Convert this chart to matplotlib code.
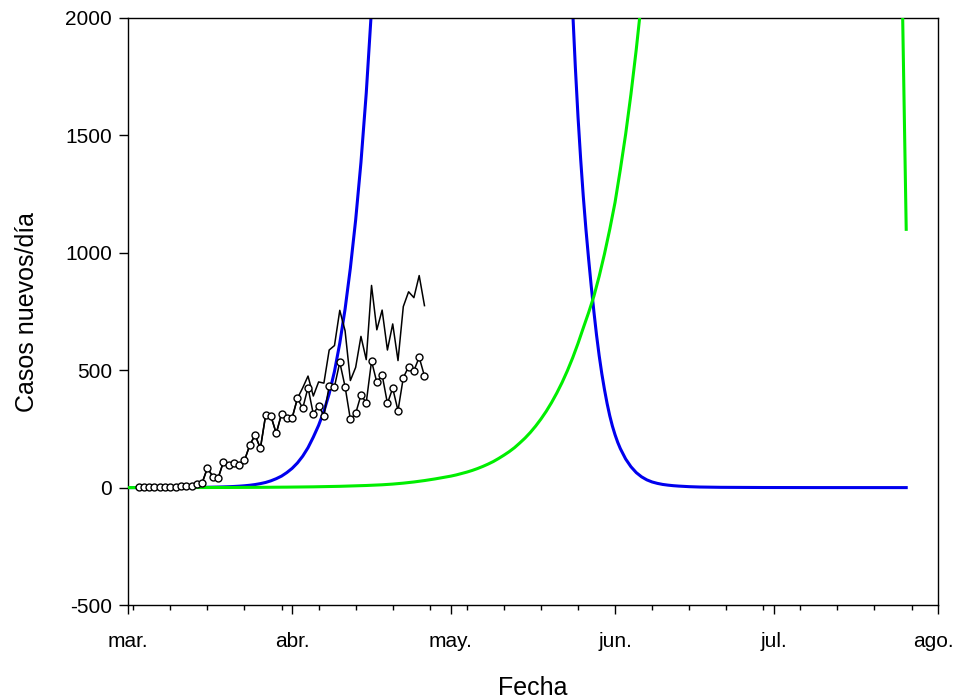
import numpy as np
import matplotlib
matplotlib.use('Agg')
import matplotlib.pyplot as plt
import matplotlib.dates as mdates
import matplotlib.transforms as mtransforms

plt.rcParams['font.family'] = ['Liberation Sans', 'DejaVu Sans']
plt.rcParams['axes.unicode_minus'] = False

# casos nuevos por día, del 3 de marzo al 26 de abril
inicio_datos = '2020-03-03'
fin_datos = '2020-04-27'
casos = [1, 1, 2, 1, 2, 3, 3, 4, 5, 5, 8, 15, 20, 84, 47, 39, 108, 98, 105, 98,
         116, 181, 224, 167, 309, 304, 231, 314, 295, 297, 380, 338, 426, 313, 349,
         306, 433, 430, 534, 430, 291, 316, 394, 362, 539, 448, 480, 359, 423, 328,
         468, 515, 498, 555, 475]
casos_b = [1, 1, 2, 1, 2, 3, 3, 4, 5, 5, 8, 15, 20, 84, 47, 39, 108, 98, 105, 98,
           116, 181, 224, 167, 309, 304, 231, 314, 295, 297, 380, 425, 475, 390, 450,
           445, 586, 605, 755, 668, 456, 512, 644, 545, 861, 672, 756, 586, 697, 541,
           771, 834, 809, 903, 775]

# curvas de modelo (días desde el 1 de marzo, casos/día)
inicio = np.datetime64('2020-03-01')
dias_azul = [0, 3, 6, 9, 12, 13, 14, 15, 16, 17, 18, 19, 20, 21, 22, 23, 24, 25, 26,
             27, 28, 29, 30, 31, 32, 33, 34, 35, 36, 37, 38, 39, 40, 41, 42, 43, 44,
             45, 46, 47,
             83, 83.5, 84, 84.5, 85, 85.5, 86, 86.5, 87, 87.5, 88, 88.5, 89, 89.5, 90,
             90.5, 91, 91.5, 92, 92.5, 93, 94, 95, 96, 97, 98, 99, 100, 101, 102, 103,
             104, 106, 108, 112, 120, 130, 147]
azul = [0.05, 0.1, 0.2, 0.4, 0.8, 1.0, 1.2, 1.5, 1.9, 2.4, 3.0, 3.8, 4.8, 6.1, 7.8,
        10, 13, 17, 22, 29, 38, 49, 64, 82, 105, 134, 170, 215, 265, 325, 400, 495,
        615, 760, 935, 1140, 1385, 1680, 2040, 2470,
        2700, 2330, 2030, 1790, 1580, 1400, 1240, 1100, 975, 858, 750, 650, 562, 485,
        418, 358, 306, 262, 225, 193, 166, 122, 89, 64, 46, 33, 24, 18, 13.5, 10.5,
        8.2, 6.5, 4, 2.5, 1.2, 0.4, 0.1, 0]
dias_verde = [0, 5, 10, 15, 20, 25, 30, 35, 40, 45, 48, 50, 52, 54, 56, 58, 59, 60,
              61, 62, 63, 64, 65, 66, 67, 68, 69, 70, 71, 72, 73, 74, 75, 76, 77, 78,
              79, 80, 81, 82, 83, 84, 85, 86, 87, 88, 89, 90, 91, 92, 93, 94, 95, 96,
              97, 98, 146, 147]
verde = [0, 0.1, 0.2, 0.4, 0.7, 1.2, 2, 3.3, 5.5, 9, 12, 15, 19, 24, 30, 37, 41, 45,
         49, 54, 60, 66, 73, 81, 90, 100, 111, 124, 138, 153, 170, 190, 211, 235, 262,
         292, 325, 362, 403, 448, 498, 553, 614, 680, 745, 815, 900, 995, 1100, 1215,
         1355, 1505, 1675, 1865, 2075, 2300, 2450, 1100]

meses = ['mar.', 'abr.', 'may.', 'jun.', 'jul.', 'ago.']
yticks = [-500, 0, 500, 1000, 1500, 2000]

fechas = np.arange(inicio_datos, fin_datos, dtype='datetime64[D]')
# días fraccionarios -> horas
f_azul = inicio + (np.array(dias_azul) * 24).astype('timedelta64[h]')
f_verde = inicio + (np.array(dias_verde) * 24).astype('timedelta64[h]')

fig = plt.figure(figsize=(9.54, 7.0), dpi=100)
ax = fig.add_subplot(111)
fig.subplots_adjust(left=0.1342, right=0.9832, top=0.9743, bottom=0.1357)

ax.plot(f_azul, azul, color='#0000ee', lw=2.2, zorder=2)
ax.plot(f_verde, verde, color='#00ee00', lw=2.2, zorder=3)
ax.plot(fechas, casos_b, color='black', lw=1.1, zorder=4)
ax.plot(fechas, casos, color='black', lw=1.1, marker='o', markersize=5,
        markerfacecolor='white', markeredgecolor='black', markeredgewidth=1.0, zorder=5)

ax.set_xlim(np.datetime64('2020-03-01'), np.datetime64('2020-08-01'))
ax.set_ylim(-500, 2000)

mes_ticks = np.arange('2020-03', '2020-09', dtype='datetime64[M]').astype('datetime64[D]')
ax.set_xticks(mes_ticks)
ax.set_xticklabels(meses)
ax.xaxis.set_minor_locator(mdates.WeekdayLocator(byweekday=mdates.MO))
ax.set_yticks(yticks)

ax.tick_params(axis='both', which='major', direction='out', length=6.5, width=1.0,
               labelsize=15)
ax.tick_params(axis='x', which='minor', direction='out', length=3.6, width=1.0)
ax.tick_params(axis='x', which='major', pad=13)
ax.tick_params(axis='y', which='major', pad=5)

# la última etiqueta queda un poco hacia dentro
ult = ax.get_xticklabels()[-1]
ult.set_transform(ult.get_transform() +
                  mtransforms.ScaledTranslation(-5 / 100, 0, fig.dpi_scale_trans))

for s in ax.spines.values():
    s.set_linewidth(1.0)

ax.set_xlabel('Fecha', fontsize=18, labelpad=18)
ax.set_ylabel('Casos nuevos/día', fontsize=18, labelpad=19)

plt.savefig('out.png', dpi=100)
